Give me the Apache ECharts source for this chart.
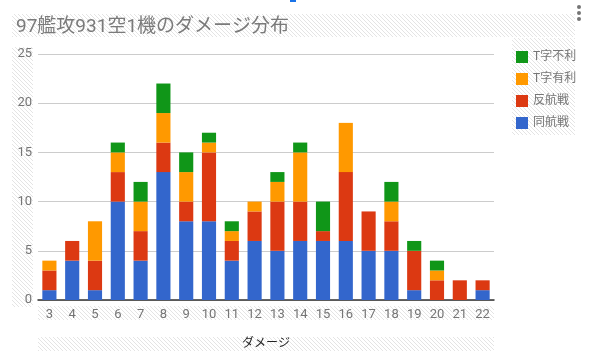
<!DOCTYPE html>
<html><head><meta charset="utf-8">
<script src="https://cdn.jsdelivr.net/npm/echarts@6/dist/echarts.min.js"></script>
<style>html,body{margin:0;padding:0;background:#fff}#c{width:590px;height:363px}</style>
</head><body><div id="c"></div>
<script>
const categories = ['3','4','5','6','7','8','9','10','11','12','13','14','15','16','17','18','19','20','21','22'];
const doukou   = [1,4,1,10,4,13,8,8,4,6,5,6,6,6,5,5,1,0,0,1];
const hankou   = [2,2,3,3,3,3,2,7,2,3,5,4,1,7,4,3,4,2,2,1];
const tYuuri   = [1,0,4,2,3,3,3,1,1,1,2,5,0,5,0,2,0,1,0,0];
const tFuri    = [0,0,0,1,2,3,2,1,1,0,1,1,3,0,0,2,1,1,0,0];
const yTicks = [0,5,10,15,20,25];

const cv = document.createElement('canvas');
cv.width = 4; cv.height = 4;
const cx = cv.getContext('2d');
cx.fillStyle = '#fff'; cx.fillRect(0,0,4,4);
cx.strokeStyle = '#e4e4e4'; cx.lineWidth = 1;
cx.beginPath(); cx.moveTo(-1,-1); cx.lineTo(5,5); cx.stroke();
cx.beginPath(); cx.moveTo(-1,3); cx.lineTo(1,5); cx.stroke();
cx.beginPath(); cx.moveTo(3,-1); cx.lineTo(5,1); cx.stroke();
const hatch = {image: cv, repeat: 'repeat'};

const font = 'Roboto, "Noto Sans CJK JP", sans-serif';
const chart = echarts.init(document.getElementById('c'), null, {renderer: 'canvas'});
function hrect(x,y,w,h){return {type:'rect', silent:true, z:-10, shape:{x,y,width:w,height:h}, style:{fill:hatch}};}
chart.setOption({
  animation: false,
  textStyle: {fontFamily: font},
  color: ['#3366cc','#dc3912','#ff9900','#109618'],
  graphic: [
    hrect(12,14,563,23),
    hrect(12,47,21,260),
    hrect(512,38,63,97),
    hrect(38,306,456,14),
    hrect(38,337,456,14),
    {type:'rect', silent:true, shape:{x:290,y:0,width:6,height:2}, style:{fill:'#1a73e8'}},
    {type:'circle', silent:true, shape:{cx:579,cy:7,r:2}, style:{fill:'#757575'}},
    {type:'circle', silent:true, shape:{cx:579,cy:13,r:2}, style:{fill:'#757575'}},
    {type:'circle', silent:true, shape:{cx:579,cy:19,r:2}, style:{fill:'#757575'}}
  ],
  title: {
    text: '97艦攻931空1機のダメージ分布',
    left: 11, top: 13,
    textStyle: {fontSize: 19, fontWeight: 'normal', color: '#7a7a7a', fontFamily: font}
  },
  legend: {
    orient: 'vertical', left: 511, top: 46,
    itemWidth: 12, itemHeight: 12, itemGap: 10,
    icon: 'rect',
    data: ['T字不利','T字有利','反航戦','同航戦'],
    textStyle: {fontSize: 12, color: '#757575', fontFamily: font}
  },
  grid: {left: 38, right: 96, top: 54, bottom: 63, containLabel: false},
  xAxis: {
    type: 'category', data: categories,
    name: 'ダメージ', nameLocation: 'middle', nameGap: 38,
    nameTextStyle: {fontSize: 12, color: '#222', fontFamily: font},
    axisLine: {lineStyle: {color: '#333', width: 1.5}},
    axisTick: {show: false},
    axisLabel: {fontSize: 13, color: '#757575', margin: 8}
  },
  yAxis: {
    type: 'value', min: 0, max: 25, interval: 5,
    axisLine: {show: false}, axisTick: {show: false},
    axisLabel: {fontSize: 13, color: '#757575', margin: 6,
      formatter: v => yTicks.includes(v) ? String(v) : ''},
    splitLine: {lineStyle: {color: '#cccccc'}}
  },
  series: [
    {name:'同航戦', type:'bar', stack:'a', data: doukou, barCategoryGap:'38%'},
    {name:'反航戦', type:'bar', stack:'a', data: hankou},
    {name:'T字有利', type:'bar', stack:'a', data: tYuuri},
    {name:'T字不利', type:'bar', stack:'a', data: tFuri}
  ]
});
</script></body></html>
